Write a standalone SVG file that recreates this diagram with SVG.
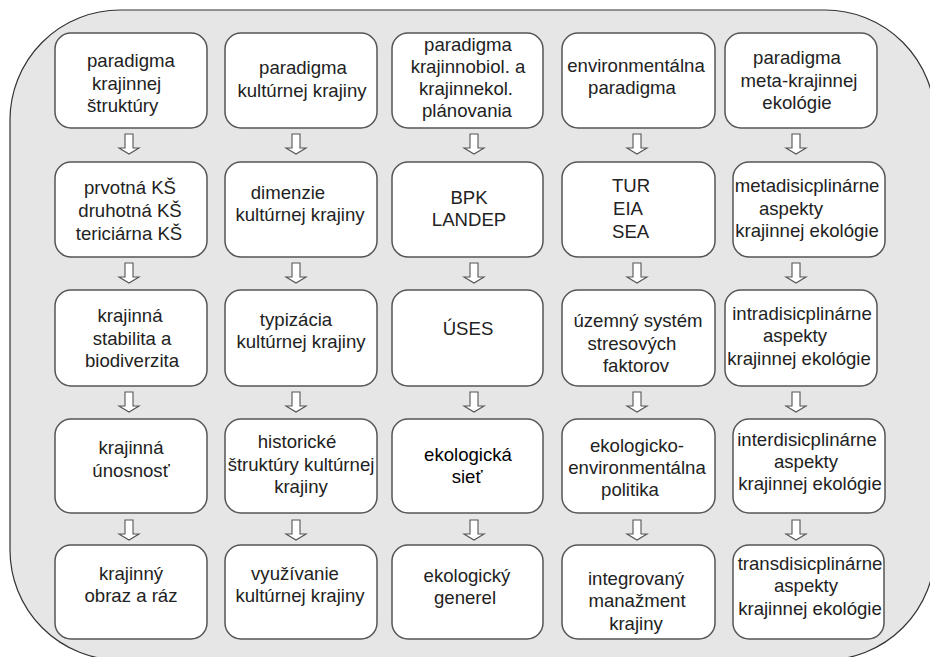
<svg xmlns="http://www.w3.org/2000/svg" width="930" height="657" viewBox="0 0 930 657">
<defs>
<style>
.bg{fill:#ffffff}
.frame{fill:#e6e6e6;stroke:#333;stroke-width:1.2}
.box{fill:#ffffff;stroke:#555;stroke-width:1.5}
.t{font-family:"Liberation Sans",Arial,sans-serif;font-size:18.6px;fill:#222;text-anchor:middle}
.s{text-anchor:start}
.dark{fill:#000}
.arr{fill:#ffffff;stroke:#555;stroke-width:1.1;stroke-linejoin:miter}
</style>
<path id="ar" d="M-4,0 H4 V14 H10 L0,20 L-10,14 H-4 Z"/>
</defs>
<rect class="bg" x="0" y="0" width="930" height="657"/>
<rect class="frame" x="10" y="10" width="925" height="650" rx="110" ry="110"/>

<g id="connectors">
<use href="#ar" class="arr" x="129" y="134"/><use href="#ar" class="arr" x="296" y="134"/><use href="#ar" class="arr" x="474" y="134"/><use href="#ar" class="arr" x="637" y="134"/><use href="#ar" class="arr" x="796" y="134"/>
<use href="#ar" class="arr" x="129" y="263"/><use href="#ar" class="arr" x="296" y="263"/><use href="#ar" class="arr" x="474" y="263"/><use href="#ar" class="arr" x="637" y="263"/><use href="#ar" class="arr" x="796" y="263"/>
<use href="#ar" class="arr" x="129" y="392"/><use href="#ar" class="arr" x="296" y="392"/><use href="#ar" class="arr" x="474" y="392"/><use href="#ar" class="arr" x="637" y="392"/><use href="#ar" class="arr" x="796" y="392"/>
<use href="#ar" class="arr" x="129" y="520"/><use href="#ar" class="arr" x="296" y="520"/><use href="#ar" class="arr" x="474" y="520"/><use href="#ar" class="arr" x="637" y="520"/><use href="#ar" class="arr" x="796" y="520"/>
</g>

<!-- Row 1 -->
<g id="n11"><rect class="box" x="55" y="33" width="152" height="95" rx="16"/>
<text class="t s" x="87" y="67">paradigma</text><text class="t s" x="92" y="90">krajinnej</text><text class="t s" x="87" y="112">štruktúry</text></g>
<g id="n12"><rect class="box" x="225" y="33" width="152" height="95" rx="16"/>
<text class="t" x="303" y="74">paradigma</text><text class="t" x="302" y="97">kultúrnej krajiny</text></g>
<g id="n13"><rect class="box" x="392" y="33" width="151" height="95" rx="16"/>
<text class="t" x="468" y="51">paradigma</text><text class="t" x="468" y="73">krajinnobiol. a</text><text class="t" x="466" y="95">krajinnekol.</text><text class="t" x="467" y="117">plánovania</text></g>
<g id="n14"><rect class="box" x="562" y="33" width="153" height="95" rx="16"/>
<text class="t" x="636" y="72">environmentálna</text><text class="t" x="632" y="94">paradigma</text></g>
<g id="n15"><rect class="box" x="725" y="33" width="152" height="95" rx="16"/>
<text class="t" x="797" y="64">paradigma</text><text class="t" x="799" y="87">meta-krajinnej</text><text class="t" x="797" y="109">ekológie</text></g>

<!-- Row 2 -->
<g id="n21"><rect class="box" x="55" y="162" width="152" height="95" rx="16"/>
<text class="t" x="130" y="194">prvotná KŠ</text><text class="t" x="130" y="217">druhotná KŠ</text><text class="t" x="129" y="240">tericiárna KŠ</text></g>
<g id="n22"><rect class="box" x="225" y="162" width="152" height="95" rx="16"/>
<text class="t" x="288" y="199">dimenzie</text><text class="t" x="300" y="221">kultúrnej krajiny</text></g>
<g id="n23"><rect class="box" x="392" y="162" width="151" height="95" rx="16"/>
<text class="t" x="469" y="204">BPK</text><text class="t" x="469" y="226">LANDEP</text></g>
<g id="n24"><rect class="box" x="562" y="162" width="153" height="95" rx="16"/>
<text class="t s" x="612" y="192">TUR</text><text class="t s" x="613" y="215">EIA</text><text class="t s" x="612" y="238">SEA</text></g>
<g id="n25"><rect class="box" x="733" y="162" width="152" height="95" rx="16"/>
<text class="t" x="807" y="192">metadisicplinárne</text><text class="t" x="791" y="215">aspekty</text><text class="t" x="807" y="237">krajinnej ekológie</text></g>

<!-- Row 3 -->
<g id="n31"><rect class="box" x="55" y="290" width="152" height="96" rx="16"/>
<text class="t" x="130" y="322">krajinná</text><text class="t" x="132" y="345">stabilita a</text><text class="t" x="132" y="367">biodiverzita</text></g>
<g id="n32"><rect class="box" x="225" y="290" width="152" height="96" rx="16"/>
<text class="t" x="296" y="326">typizácia</text><text class="t" x="301" y="348">kultúrnej krajiny</text></g>
<g id="n33"><rect class="box" x="392" y="290" width="151" height="96" rx="16"/>
<text class="t" x="468" y="335">ÚSES</text></g>
<g id="n34"><rect class="box" x="562" y="290" width="153" height="96" rx="16"/>
<text class="t" x="638" y="327">územný systém</text><text class="t" x="632" y="350">stresových</text><text class="t" x="636" y="372">faktorov</text></g>
<g id="n35"><rect class="box" x="725" y="290" width="152" height="96" rx="16"/>
<text class="t" x="802" y="320">intradisicplinárne</text><text class="t" x="795" y="342">aspekty</text><text class="t" x="799" y="365">krajinnej ekológie</text></g>

<!-- Row 4 -->
<g id="n41"><rect class="box" x="55" y="419" width="152" height="94" rx="16"/>
<text class="t" x="131" y="454">krajinná</text><text class="t" x="131" y="477">únosnosť</text></g>
<g id="n42"><rect class="box" x="225" y="419" width="152" height="94" rx="16"/>
<text class="t" x="297" y="448">historické</text><text class="t" x="301" y="471">štruktúry kultúrnej</text><text class="t" x="301" y="493">krajiny</text></g>
<g id="n43"><rect class="box" x="392" y="419" width="151" height="94" rx="16"/>
<text class="t dark" x="468" y="461">ekologická</text><text class="t dark" x="467" y="483">sieť</text></g>
<g id="n44"><rect class="box" x="562" y="419" width="153" height="94" rx="16"/>
<text class="t" x="637" y="452">ekologicko-</text><text class="t" x="637" y="474">environmentálna</text><text class="t" x="630" y="496">politika</text></g>
<g id="n45"><rect class="box" x="733" y="419" width="152" height="94" rx="16"/>
<text class="t" x="807" y="446">interdisicplinárne</text><text class="t" x="806" y="468">aspekty</text><text class="t" x="810" y="490">krajinnej ekológie</text></g>

<!-- Row 5 -->
<g id="n51"><rect class="box" x="55" y="545" width="152" height="94" rx="16"/>
<text class="t" x="131" y="580">krajinný</text><text class="t" x="131" y="602">obraz a ráz</text></g>
<g id="n52"><rect class="box" x="225" y="545" width="152" height="94" rx="16"/>
<text class="t" x="295" y="580">využívanie</text><text class="t" x="300" y="602">kultúrnej krajiny</text></g>
<g id="n53"><rect class="box" x="392" y="545" width="151" height="94" rx="16"/>
<text class="t" x="467" y="582">ekologický</text><text class="t" x="465" y="604">generel</text></g>
<g id="n54"><rect class="box" x="562" y="545" width="153" height="94" rx="16"/>
<text class="t" x="636" y="585">integrovaný</text><text class="t" x="637" y="607">manažment</text><text class="t" x="636" y="630">krajiny</text></g>
<g id="n55"><rect class="box" x="733" y="545" width="151" height="94" rx="16"/>
<text class="t" x="810" y="570">transdisicplinárne</text><text class="t" x="806" y="592">aspekty</text><text class="t" x="810" y="615">krajinnej ekológie</text></g>
</svg>
